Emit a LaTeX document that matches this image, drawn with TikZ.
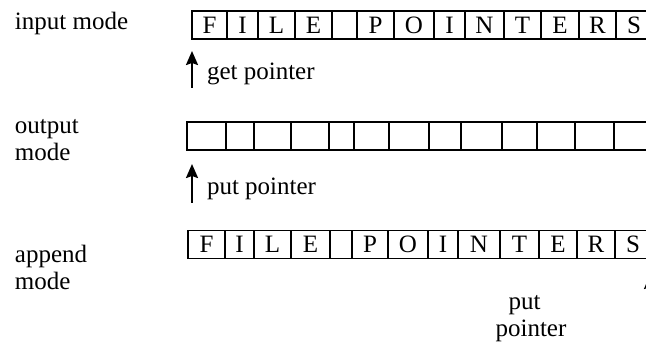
\documentclass[tikz,border=0pt]{standalone}
\usepackage{fontspec}
\setmainfont{Liberation Serif}
\usetikzlibrary{arrows.meta}
\begin{document}
\begin{tikzpicture}[x=1pt,y=-1pt,
  every node/.style={font=\fontsize{25}{27}\selectfont, inner sep=0pt, outer sep=0pt},
  cell/.style={draw, line width=1.6pt, minimum height=28pt},
  lbl/.style={anchor=base west, align=left},
  ptr/.style={line width=2.2pt, -{Stealth[length=14pt,width=12pt,inset=2pt]}}]
\useasboundingbox (0,0) rectangle (646,347);
% row 1: input mode
\foreach \l/\r/\t [count=\i] in {192/227/F,227/258/I,258/295/L,295/332/E,332/357/{},357/394/P,394/434/O,434/465/I,465/504/N,504/541/T,541/579/E,579/616/R,616/652/S}
  \node[cell, minimum width={(\r-\l)*1pt}] (a\i) at ({(\l+\r)/2},25) {\t};
% row 2: output mode
\foreach \l/\r [count=\i] in {187/226,226/254,254/291,291/329,329/354,354/389,389/429,429/461,461/502,502/537,537/575,575/614,614/650}
  \node[cell, minimum width={(\r-\l)*1pt}] (b\i) at ({(\l+\r)/2},136) {};
% row 3: append mode
\foreach \l/\r/\t [count=\i] in {188/225/F,225/254/I,254/291/L,291/330/E,330/352/{},352/388/P,388/428/O,428/458/I,458/500/N,500/539/T,539/577/E,577/615/R,615/651/S}
  \node[cell, minimum width={(\r-\l)*1pt}] (c\i) at ({(\l+\r)/2},244.5) {\t};
% left labels
\node[lbl] (m1) at (15,30) {input mode};
\node[lbl] (m2) at (15,161) {output\\mode};
\node[lbl] (m3) at (15,290) {append\\mode};
% get pointer
\coordinate (g0) at (192,88);
\coordinate (g1) at (192,51);
\draw[ptr] (g0) -- (g1);
\node[lbl] (gt) at (207,80) {get pointer};
% put pointer (output)
\coordinate (p0) at (192,203);
\coordinate (p1) at (192,164);
\draw[ptr] (p0) -- (p1);
\node[lbl] (pt) at (207,195) {put pointer};
% put pointer (append)
\coordinate (q0) at (650,312);
\coordinate (q1) at (650,275);
\draw[ptr] (q0) -- (q1);
\node[anchor=base] (qt1) at (524.5,310) {put};
\node[anchor=base] (qt2) at (531,337) {pointer};
\end{tikzpicture}
\end{document}
